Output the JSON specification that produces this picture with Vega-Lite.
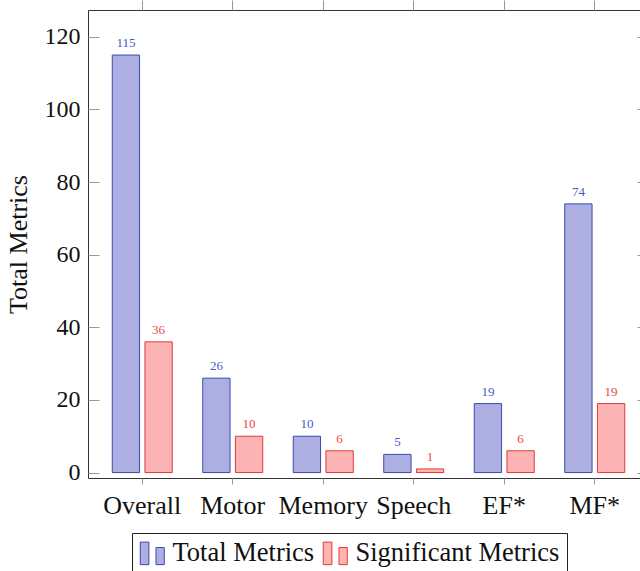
{
  "$schema": "https://vega.github.io/schema/vega-lite/v6.json",
  "width": 552,
  "height": 468,
  "autosize": {"type": "none"},
  "padding": {"left": 88, "top": 10, "right": 0, "bottom": 93},
  "config": {
    "font": "Liberation Serif",
    "view": {"stroke": "#333", "strokeWidth": 1},
    "axis": {"domain": false, "grid": false}
  },
  "data": {
    "values": [
      {"category": "Overall", "series": "Total Metrics", "value": 115},
      {"category": "Overall", "series": "Significant Metrics", "value": 36},
      {"category": "Motor", "series": "Total Metrics", "value": 26},
      {"category": "Motor", "series": "Significant Metrics", "value": 10},
      {"category": "Memory", "series": "Total Metrics", "value": 10},
      {"category": "Memory", "series": "Significant Metrics", "value": 6},
      {"category": "Speech", "series": "Total Metrics", "value": 5},
      {"category": "Speech", "series": "Significant Metrics", "value": 1},
      {"category": "EF*", "series": "Total Metrics", "value": 19},
      {"category": "EF*", "series": "Significant Metrics", "value": 6},
      {"category": "MF*", "series": "Total Metrics", "value": 74},
      {"category": "MF*", "series": "Significant Metrics", "value": 19}
    ]
  },
  "layer": [
    {
      "mark": {"type": "bar", "strokeWidth": 1},
      "encoding": {
        "x": {
          "field": "category", "type": "nominal",
          "sort": ["Overall", "Motor", "Memory", "Speech", "EF*", "MF*"],
          "scale": {"range": [0, 561], "paddingInner": 0.337, "paddingOuter": 0.268},
          "axis": {"orient": "bottom", "title": null, "labelAngle": 0, "labelFontSize": 26, "labelColor": "#111", "tickColor": "#999", "tickSize": 6, "labelPadding": 8}
        },
        "xOffset": {
          "field": "series", "type": "nominal",
          "sort": ["Total Metrics", "Significant Metrics"],
          "scale": {"paddingInner": 0.165, "paddingOuter": 0}
        },
        "y": {
          "field": "value", "type": "quantitative",
          "scale": {"domain": [-1.5, 127.4], "nice": false, "zero": false},
          "axis": {"orient": "left", "title": "Total Metrics", "values": [0, 20, 40, 60, 80, 100, 120], "tickSize": -11, "labelPadding": 19, "tickColor": "#999", "labelFontSize": 24, "labelColor": "#111", "titleFontSize": 26, "titleFontWeight": "normal", "titleColor": "#111", "titlePadding": 13}
        },
        "fill": {
          "field": "series", "type": "nominal",
          "scale": {"domain": ["Total Metrics", "Significant Metrics"], "range": ["#ADAFE3", "#FBB3B3"]},
          "legend": {"title": null, "orient": "none", "legendX": 44, "legendY": 523, "direction": "horizontal", "strokeColor": "#222", "fillColor": "white", "padding": 7, "symbolType": "M-1,-0.94H-0.28V0.94H-1Z M0.31,-0.49H1V0.94H0.31Z", "symbolSize": 576, "symbolStrokeWidth": 1, "labelFontSize": 26.5, "labelColor": "#111", "labelOffset": 7, "columnPadding": 6, "labelLimit": 400}
        },
        "stroke": {
          "field": "series", "type": "nominal",
          "scale": {"domain": ["Total Metrics", "Significant Metrics"], "range": ["#3A4BAA", "#E23A3A"]},
          "legend": {"title": null, "orient": "none", "legendX": 44, "legendY": 523, "direction": "horizontal", "strokeColor": "#222", "fillColor": "white", "padding": 7, "symbolType": "M-1,-0.94H-0.28V0.94H-1Z M0.31,-0.49H1V0.94H0.31Z", "symbolSize": 576, "symbolStrokeWidth": 1, "labelFontSize": 26.5, "labelColor": "#111", "labelOffset": 7, "columnPadding": 6, "labelLimit": 400}
        }
      }
    },
    {
      "mark": {"type": "text", "fontSize": 13, "baseline": "alphabetic", "dy": -8},
      "encoding": {
        "x": {
          "field": "category", "type": "nominal",
          "sort": ["Overall", "Motor", "Memory", "Speech", "EF*", "MF*"],
          "axis": {"orient": "top", "title": null, "labels": false, "tickColor": "#999", "tickSize": 10}
        },
        "xOffset": {
          "field": "series", "type": "nominal",
          "sort": ["Total Metrics", "Significant Metrics"]
        },
        "y": {
          "field": "value", "type": "quantitative",
          "axis": {"orient": "right", "title": null, "labels": false, "values": [0, 20, 40, 60, 80, 100, 120], "tickSize": -3, "tickColor": "#999"}
        },
        "text": {"field": "value", "type": "quantitative"},
        "color": {
          "field": "series", "type": "nominal",
          "scale": {"domain": ["Total Metrics", "Significant Metrics"], "range": ["#4A5BC0", "#E84848"]},
          "legend": null
        }
      }
    }
  ]
}
